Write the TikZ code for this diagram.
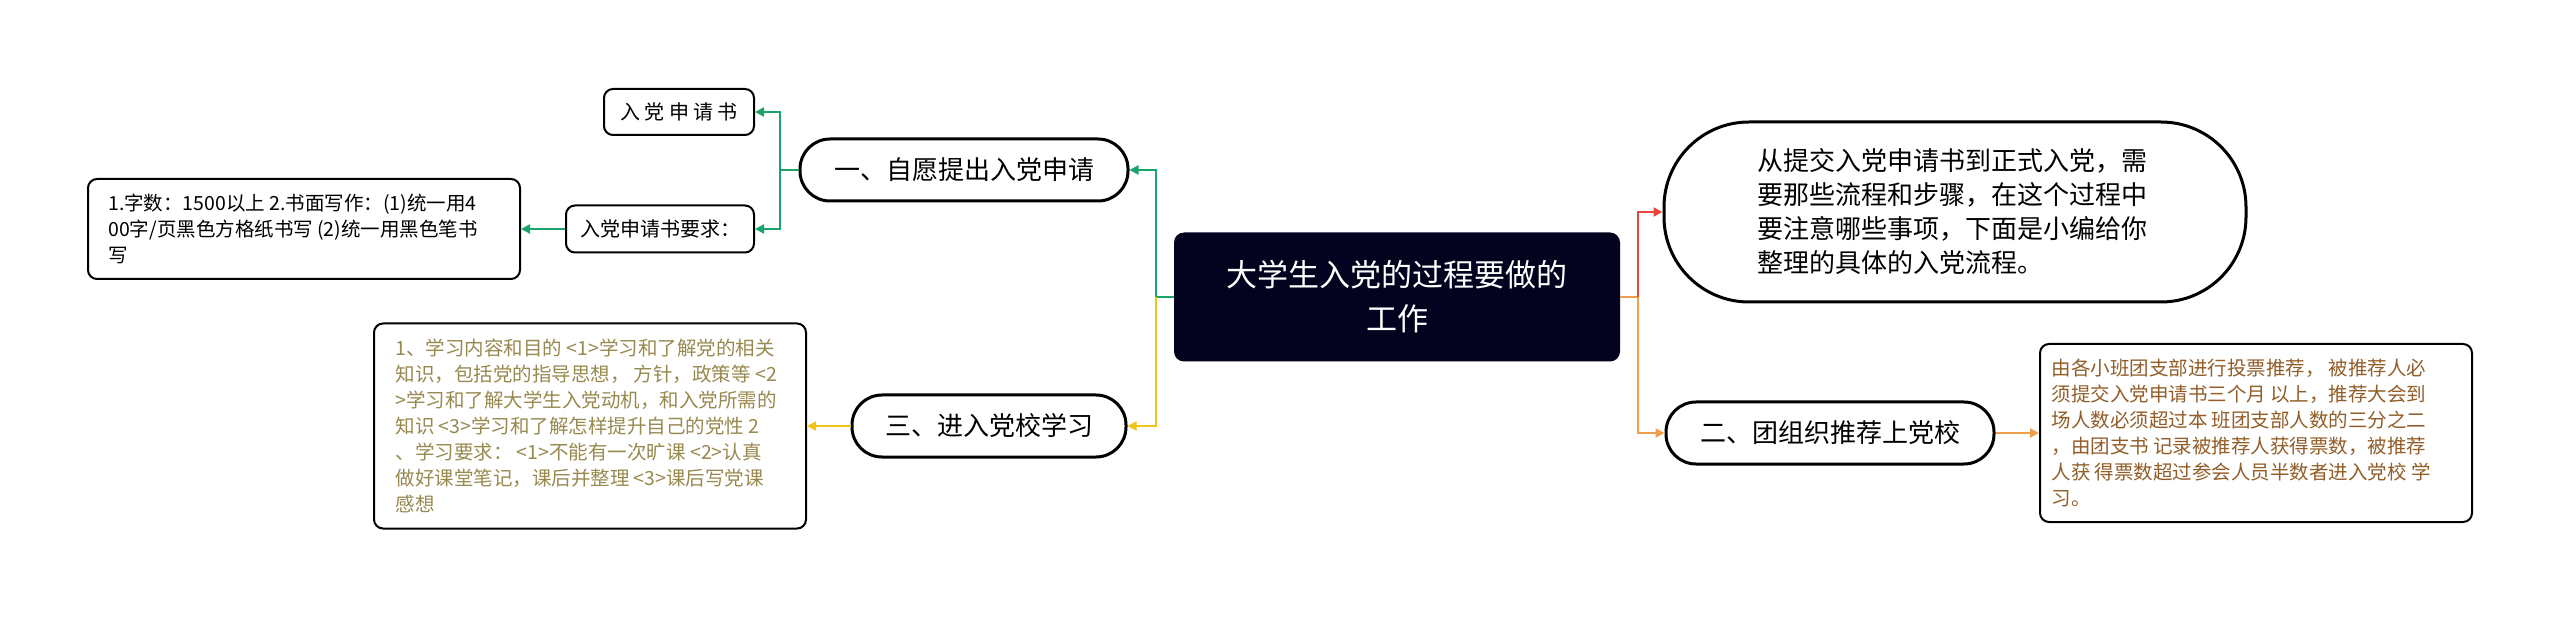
\documentclass[tikz,border=0pt]{standalone}
\usepackage{fontspec}
\setmainfont{Noto Sans CJK SC}
\usetikzlibrary{arrows.meta}
\definecolor{cgreen}{HTML}{1AA36B}
\definecolor{cyellow}{HTML}{F0C419}
\definecolor{cred}{HTML}{E5453A}
\definecolor{corange}{HTML}{F0A04B}
\definecolor{cnavy}{HTML}{03031F}
\begin{document}
\begin{tikzpicture}[x=1pt,y=-1pt,
  pill/.style={draw=black,line width=3pt,fill=white,rounded corners=30pt,inner sep=0pt,font=\fontsize{26}{34}\selectfont},
  small/.style={draw=black,line width=2pt,fill=white,rounded corners=9pt,inner sep=0pt,font=\fontsize{20}{26}\selectfont},
  tbox/.style={draw=black,line width=2pt,fill=white,rounded corners=9pt,inner sep=0pt,align=left,font=\fontsize{19.5}{26}\selectfont},
  conn/.style={line width=2.6pt,-{Triangle[length=9pt,width=9pt]}},
  plain/.style={line width=2.6pt}]
\useasboundingbox (0,0) rectangle (2560,617);
\fill[white] (0,0) rectangle (2560,617);
\node[fill=cnavy,rounded corners=10pt,minimum width=446pt,minimum height=129pt,inner sep=0pt,text=white,align=center,font=\fontsize{31}{44}\selectfont] (c) at (1397,297) {大学生入党的过程要做的\\工作};
\node[pill,minimum width=328pt,minimum height=62pt] (n1) at (964,170) {一、自愿提出入党申请};
\node[small,minimum width=150pt,minimum height=46pt] (a) at (679,112) {入 党 申 请 书};
\node[small,minimum width=188pt,minimum height=47pt] (b) at (660,229) {入党申请书要求：};
\node[tbox,minimum width=432pt,minimum height=100pt] (b1) at (304,229) {1.字数：1500以上 2.书面写作：(1)统一用4\\00字/页黑色方格纸书写 (2)统一用黑色笔书\\写\hspace*{372pt}};
\node[pill,minimum width=274pt,minimum height=62pt] (n3) at (989,426) {三、进入党校学习};
\node[tbox,text=black!55!yellow!70!brown,minimum width=432pt,minimum height=205pt] (b3) at (590,426) {1、学习内容和目的 <1>学习和了解党的相关\\知识，包括党的指导思想， 方针，政策等 <2\\>学习和了解大学生入党动机，和入党所需的\\知识 <3>学习和了解怎样提升自己的党性 2\\、学习要求： <1>不能有一次旷课 <2>认真\\做好课堂笔记，课后并整理 <3>课后写党课\\感想\hspace*{350pt}};
\node[pill,rounded corners=85pt,minimum width=582pt,minimum height=180pt,align=left] (p) at (1955,212) {从提交入党申请书到正式入党，需\\要那些流程和步骤，在这个过程中\\要注意哪些事项，下面是小编给你\\整理的具体的入党流程。\hspace*{110pt}};
\node[pill,minimum width=328pt,minimum height=62pt] (n2) at (1830,433) {二、团组织推荐上党校};
\node[tbox,text=black!30!brown!90!orange,minimum width=432pt,minimum height=178pt] (b2) at (2256,433) {由各小班团支部进行投票推荐， 被推荐人必\\须提交入党申请书三个月 以上，推荐大会到\\场人数必须超过本 班团支部人数的三分之二\\，由团支书 记录被推荐人获得票数，被推荐\\人获 得票数超过参会人员半数者进入党校 学\\习。\hspace*{370pt}};
\coordinate (gl) at (1156,297);
\coordinate (gr) at (1638,297);
\coordinate (g1) at (780,170);
\draw[plain,cgreen] (c.west) -- (gl);
\draw[conn,cgreen] (gl) |- (n1.east);
\draw[plain,cgreen] (n1.west) -- (g1);
\draw[conn,cgreen] (g1) |- (a.east);
\draw[conn,cgreen] (g1) |- (b.east);
\draw[conn,cgreen] (b.west) -- (b1.east |- b.west);
\draw[conn,cyellow] (gl) |- (n3.east);
\draw[conn,cyellow] (n3.west) -- (b3.east |- n3.west);
\draw[plain,corange] (c.east) -- (gr);
\draw[conn,cred] (gr) |- (p.west);
\draw[conn,corange] (gr) |- (n2.west);
\draw[conn,corange] (n2.east) -- (b2.west |- n2.east);
\end{tikzpicture}
\end{document}
